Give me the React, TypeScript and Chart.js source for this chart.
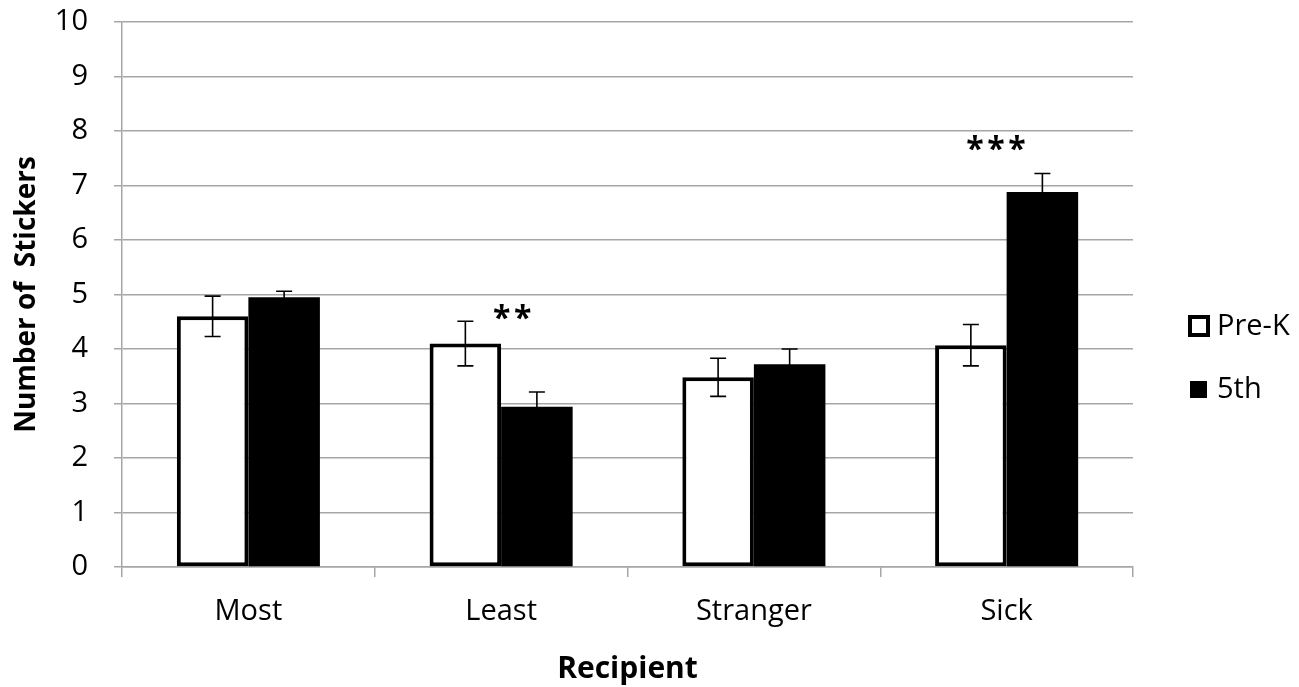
import React, { useEffect, useRef } from "react";
import { Chart, registerables } from "chart.js";

Chart.register(...registerables);

const categories = ["Most", "Least", "Stranger", "Sick"];
const seriesLabels = ["Pre-K", "5th"];
const preKValues = [4.6, 4.1, 3.48, 4.07];
const fifthValues = [4.95, 2.94, 3.72, 6.88];
const preKErrors = [0.37, 0.41, 0.35, 0.38];
const fifthErrors = [0.11, 0.27, 0.28, 0.34];
const starLabels = ["**", "***"];
const starCategoryPos = [1.044, 2.958];
const starValues = [4.83, 7.92];
const yTicks = [0, 1, 2, 3, 4, 5, 6, 7, 8, 9, 10];

const FONT = "'Open Sans', 'DejaVu Sans', sans-serif";
const GRID = "#a6a6a6";

const errorBarPlugin = {
  id: "errorBars",
  afterDatasetsDraw(chart: any) {
    const ctx = chart.ctx;
    const yScale = chart.scales.y;
    const xScale = chart.scales.x;
    const errs = [preKErrors, fifthErrors];
    ctx.save();
    ctx.strokeStyle = "#000";
    ctx.lineWidth = 1.6;
    chart.data.datasets.forEach((ds: any, di: number) => {
      const meta = chart.getDatasetMeta(di);
      meta.data.forEach((bar: any, i: number) => {
        const v = ds.data[i];
        const e = errs[di][i];
        const yt = yScale.getPixelForValue(v + e);
        const yb = yScale.getPixelForValue(v - e);
        const x = bar.x;
        ctx.beginPath();
        ctx.moveTo(x, yt);
        ctx.lineTo(x, yb);
        ctx.moveTo(x - 8, yt);
        ctx.lineTo(x + 8, yt);
        ctx.moveTo(x - 8, yb);
        ctx.lineTo(x + 8, yb);
        ctx.stroke();
      });
    });
    // significance stars
    ctx.fillStyle = "#000";
    ctx.font = `bold 32px ${FONT}`;
    ctx.textAlign = "center";
    ctx.textBaseline = "top";
    starLabels.forEach((s, i) => {
      const cx = xScale.getPixelForDecimal(
        (starCategoryPos[i] + 0.5) / categories.length
      );
      const y = yScale.getPixelForValue(starValues[i]);
      const n = s.length;
      for (let k = 0; k < n; k++) {
        ctx.fillText("*", cx + (k - (n - 1) / 2) * 21, y);
      }
    });
    // legend
    const area = chart.chartArea;
    const lx = area.right + 55;
    const rows = [326, 389];
    ctx.font = `29px ${FONT}`;
    ctx.textAlign = "left";
    ctx.textBaseline = "middle";
    chart.data.datasets.forEach((ds: any, di: number) => {
      const cy = rows[di];
      if (di === 0) {
        ctx.fillStyle = "#fff";
        ctx.fillRect(lx, cy - 11, 22, 22);
        ctx.strokeStyle = "#000";
        ctx.lineWidth = 4;
        ctx.strokeRect(lx + 2, cy - 9, 18, 18);
      } else {
        ctx.fillStyle = "#000";
        ctx.fillRect(lx + 2, cy - 8, 17, 17);
      }
      ctx.fillStyle = "#000";
      ctx.fillText(ds.label, lx + 29, cy + 1);
    });
    ctx.restore();
  },
};

export default function App() {
  const ref = useRef<HTMLCanvasElement>(null);
  useEffect(() => {
    document.body.style.margin = "0";
    const chart = new Chart(ref.current as HTMLCanvasElement, {
      type: "bar",
      data: {
        labels: categories,
        datasets: [
          {
            label: seriesLabels[0],
            data: preKValues,
            backgroundColor: "#fff",
            borderColor: "#000",
            borderWidth: 4,
            borderSkipped: false,
            categoryPercentage: 0.566,
            barPercentage: 1,
          },
          {
            label: seriesLabels[1],
            data: fifthValues,
            backgroundColor: "#000",
            borderColor: "#000",
            borderWidth: 0,
            categoryPercentage: 0.566,
            barPercentage: 1,
          },
        ],
      },
      options: {
        animation: false,
        responsive: false,
        devicePixelRatio: 1,
        layout: { padding: { left: 0, top: 22, right: 166, bottom: 0 } },
        plugins: {
          legend: { display: false },
          tooltip: { enabled: false },
        },
        scales: {
          x: {
            grid: {
              offset: true,
              drawOnChartArea: false,
              drawTicks: true,
              tickLength: 10,
              color: GRID,
              lineWidth: 1.5,
            },
            border: { color: GRID, width: 1.5 },
            ticks: {
              color: "#000",
              font: { family: FONT, size: 29 },
              padding: 17,
            },
            title: {
              display: true,
              text: "Recipient",
              color: "#000",
              font: { family: FONT, size: 30, weight: "bold" },
              padding: { top: 6, bottom: 0 },
            },
            afterFit(scale: any) {
              scale.height = 120;
              scale.paddingLeft = 0;
              scale.paddingRight = 0;
            },
          },
          y: {
            min: 0,
            max: 10,
            afterBuildTicks(scale: any) {
              scale.ticks = yTicks.map((v) => ({ value: v }));
            },
            grid: {
              color: GRID,
              lineWidth: 1.5,
              tickLength: 8,
            },
            border: { color: GRID, width: 1.5 },
            ticks: {
              color: "#000",
              font: { family: FONT, size: 29 },
              padding: 26,
            },
            title: {
              display: true,
              text: "Number of  Stickers",
              color: "#000",
              font: { family: FONT, size: 28, weight: "bold" },
              padding: { top: 10, bottom: 0 },
            },
            afterFit(scale: any) {
              scale.width = 122;
              scale.paddingTop = 0;
              scale.paddingBottom = 0;
            },
          },
        },
      },
      plugins: [errorBarPlugin],
    } as any);
    return () => chart.destroy();
  }, []);
  return (
    <div style={{ width: 1299, height: 687, background: "#fff" }}>
      <canvas ref={ref} width={1299} height={687} />
    </div>
  );
}
